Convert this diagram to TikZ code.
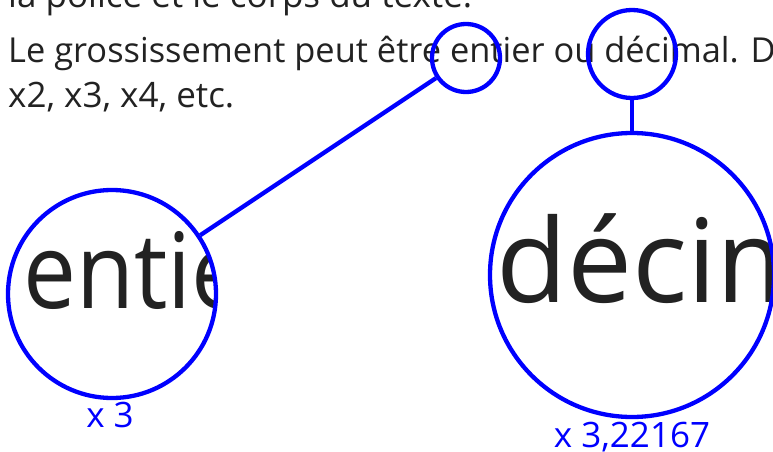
\documentclass[tikz,border=0pt]{standalone}
\usepackage{fontspec}
\setmainfont{Open Sans}
\definecolor{ink}{HTML}{222222}
\definecolor{lens}{RGB}{0,0,255}
\tikzset{
  body/.style={anchor=base west, inner sep=0pt, text=ink, font=\fontsize{35}{42}\selectfont},
  magnified/.style={anchor=base west, inner sep=0pt, text=ink},
  lensring/.style={circle, draw=lens, line width=4.3pt, inner sep=0pt},
  lensline/.style={draw=lens, line width=4.3pt},
  factor/.style={anchor=base, inner sep=0pt, text=lens, font=\fontsize{35}{42}\selectfont},
}
\begin{document}
\begin{tikzpicture}[x=1pt,y=-1pt]
\clip (0,0) rectangle (773,452);
\fill[white] (0,0) rectangle (773,452);
% body text
\node[body] (l1) at (8,8) {la police et le corps du texte.};
\node[body, font=\fontsize{34.4}{42}\selectfont] (l2) at (8,63) {Le grossissement peut être entier ou décimal. Dans};
\node[body] (l3) at (8,107) {x2, x3, x4, etc.};
% magnified texts
\begin{scope}
  \clip (112,294) circle [radius=104pt];
  \node[magnified, font=\fontsize{105}{110}\selectfont] (m1) at (23,308) {\scalebox{0.9}[1]{entier}};
\end{scope}
\begin{scope}
  \clip (632,275) circle [radius=142pt];
  \node[magnified, font=\fontsize{116}{120}\selectfont] (m2) at (496,302) {décimal};
\end{scope}
% lenses
\node[lensring, minimum size=68pt] (s1) at (466,58) {};
\node[lensring, minimum size=88pt] (s2) at (632,54) {};
\node[lensring, minimum size=208pt] (b1) at (112,294) {};
\node[lensring, minimum size=284pt] (b2) at (632,275) {};
\draw[lensline] (s1) -- (b1);
\draw[lensline] (s2) -- (b2);
% factors
\node[factor] (f1) at (110,427) {x 3};
\node[factor] (f2) at (632,447) {x 3,22167};
\end{tikzpicture}
\end{document}
